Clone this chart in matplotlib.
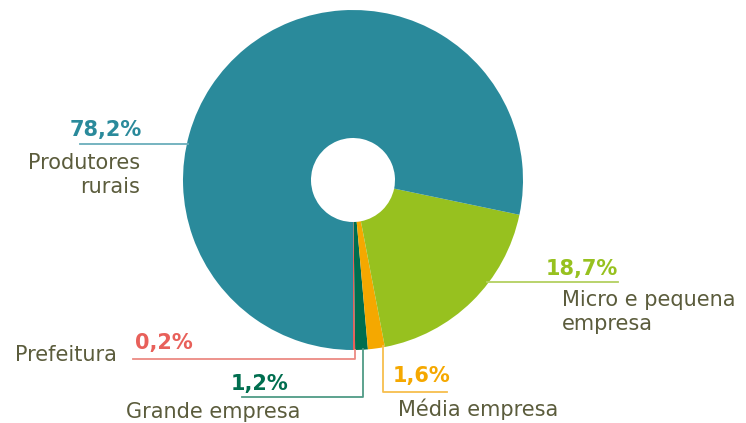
import matplotlib
matplotlib.use("Agg")
import matplotlib.pyplot as plt

# Data (counterclockwise order starting at 6 o'clock)
categories = ["Prefeitura", "Grande empresa", "Média empresa", "Micro e pequena\nempresa", "Produtores\nrurais"]
values = [0.2, 1.2, 1.6, 18.7, 78.2]
pct_labels = ["0,2%", "1,2%", "1,6%", "18,7%", "78,2%"]
colors = ["#e8605a", "#006e4f", "#f5a800", "#97c11f", "#2a8a9b"]
line_colors = ["#ec8a84", "#4f9b86", "#f7be4d", "#b3d060", "#6aaebb"]
text_color = "#5b5c3c"

W, H = 746, 423
fig = plt.figure(figsize=(W / 100, H / 100), dpi=100)
ax = fig.add_axes([0, 0, 1, 1])
ax.set_xlim(0, W)
ax.set_ylim(0, H)
ax.set_aspect("equal")
ax.axis("off")

def Y(y):
    return H - y

cx, cy, R, r_in = 353, 180, 170, 42
ax.pie(values, colors=colors, startangle=-90, counterclock=True,
       center=(cx, Y(cy)), radius=R, frame=True,
       wedgeprops=dict(width=R - r_in, linewidth=0))
ax.set_xlim(0, W)
ax.set_ylim(0, H)
ax.axis("off")

FS = 15
font = "DejaVu Sans"
lw = 1.3

# Produtores rurais
i = 4
ax.plot([80, 188], [Y(144), Y(144)], color=line_colors[i], lw=lw)
ax.text(142, Y(130), pct_labels[i], color=colors[i], fontsize=FS, fontweight="bold",
        ha="right", va="center", family=font)
ax.text(140, Y(175), categories[i], color=text_color, fontsize=FS, ha="right",
        va="center", family=font, linespacing=1.25, multialignment="right")

# Micro e pequena empresa
i = 3
ax.plot([487, 618], [Y(282), Y(282)], color=line_colors[i], lw=lw)
ax.text(618, Y(269), pct_labels[i], color=colors[i], fontsize=FS, fontweight="bold",
        ha="right", va="center", family=font)
ax.text(562, Y(312), categories[i], color=text_color, fontsize=FS, ha="left",
        va="center", family=font, linespacing=1.25)

# Média empresa
i = 2
ax.plot([383, 383, 447], [Y(346), Y(392), Y(392)], color=line_colors[i], lw=lw)
ax.text(393, Y(376), pct_labels[i], color=colors[i], fontsize=FS, fontweight="bold",
        ha="left", va="center", family=font)
ax.text(398, Y(409), categories[i], color=text_color, fontsize=FS, ha="left",
        va="center", family=font)

# Grande empresa
i = 1
ax.plot([363, 363, 242], [Y(349), Y(397), Y(397)], color=line_colors[i], lw=lw)
ax.text(288, Y(384), pct_labels[i], color=colors[i], fontsize=FS, fontweight="bold",
        ha="right", va="center", family=font)
ax.text(213, Y(412), categories[i], color=text_color, fontsize=FS, ha="center",
        va="center", family=font)

# Prefeitura
i = 0
ax.plot([355, 355, 133], [Y(350), Y(359), Y(359)], color=line_colors[i], lw=lw)
ax.text(135, Y(343), pct_labels[i], color=colors[i], fontsize=FS, fontweight="bold",
        ha="left", va="center", family=font)
ax.text(117, Y(355), categories[i], color=text_color, fontsize=FS, ha="right",
        va="center", family=font)

fig.savefig("out.png", dpi=100)
